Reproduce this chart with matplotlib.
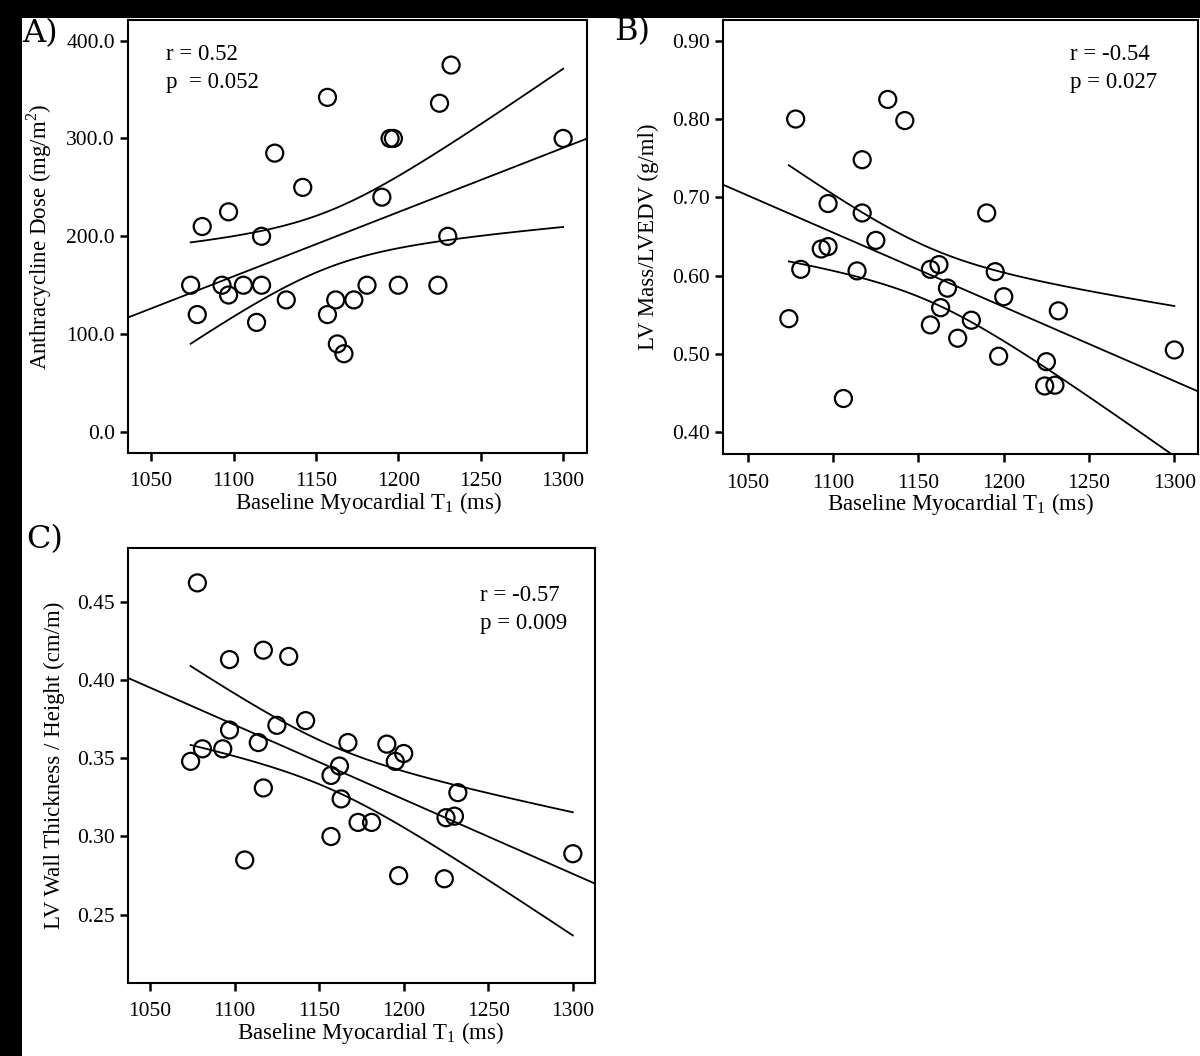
import numpy as np
import matplotlib
matplotlib.use("Agg")
import matplotlib.pyplot as plt
from matplotlib.patches import Rectangle

plt.rcParams['font.family'] = ['Liberation Serif', 'DejaVu Serif']

# Baseline myocardial T1 (ms), same patients in all three panels
t1 = [1074, 1078, 1081, 1093, 1097, 1097, 1106, 1114, 1117, 1117,
      1125, 1132, 1142, 1157, 1157, 1162, 1163, 1167, 1173, 1181,
      1190, 1195, 1197, 1200, 1224, 1225, 1230, 1232, 1300]

# A) anthracycline dose (mg/m2)
dose = [150, 120, 210, 150, 140, 225, 150, 112, 150, 200,
        285, 135, 250, 342, 120, 135, 90, 80, 135, 150,
        240, 300, 300, 150, 150, 336, 200, 375, 300]

# B) LV mass / LVEDV (g/ml)
mass_vol = [0.545, 0.800, 0.608, 0.634, 0.692, 0.637, 0.443, 0.606, 0.748, 0.680,
            0.645, 0.825, 0.798, 0.537, 0.608, 0.614, 0.559, 0.584, 0.520, 0.543,
            0.680, 0.605, 0.497, 0.573, 0.459, 0.490, 0.460, 0.555, 0.505]

# C) LV wall thickness / height (cm/m)
wall_h = [0.348, 0.462, 0.356, 0.356, 0.368, 0.413, 0.285, 0.360, 0.419, 0.331,
          0.371, 0.415, 0.374, 0.339, 0.300, 0.345, 0.324, 0.360, 0.309, 0.309,
          0.359, 0.348, 0.275, 0.353, 0.273, 0.312, 0.313, 0.328, 0.289]

x_ticks = [1050, 1100, 1150, 1200, 1250, 1300]


def fit_panel(ax, x, y, xlim, ylim, yticks, yfmt, ylabel, stats, stats_pos, xlab_x=0.5):
    x = np.array(x, dtype=float)
    y = np.array(y, dtype=float)
    ax.set_xlim(xlim)
    ax.set_ylim(ylim)

    # linear fit + 95% confidence band of the mean
    n = len(x)
    b, a = np.polyfit(x, y, 1)
    resid = y - (a + b * x)
    s = np.sqrt(np.sum(resid ** 2) / (n - 2))
    sxx = np.sum((x - x.mean()) ** 2)
    tval = 2.052
    xl = np.linspace(xlim[0], xlim[1], 50)
    ax.plot(xl, a + b * xl, color='black', lw=1.3)
    xc = np.linspace(x.min(), x.max(), 100)
    half = tval * s * np.sqrt(1.0 / n + (xc - x.mean()) ** 2 / sxx)
    ax.plot(xc, a + b * xc + half, color='black', lw=1.3)
    ax.plot(xc, a + b * xc - half, color='black', lw=1.3)

    ax.scatter(x, y, s=150, facecolors='none', edgecolors='black', linewidths=1.6, zorder=3)

    ax.set_xticks(x_ticks)
    ax.set_yticks(yticks)
    ax.set_yticklabels([yfmt % v for v in yticks])
    ax.tick_params(direction='out', length=6, width=1.8, labelsize=15.5, top=False, right=False)
    ax.tick_params(axis='x', pad=8)
    for sp in ax.spines.values():
        sp.set_linewidth(1.5)
    ax.set_xlabel(r'Baseline Myocardial T$_\mathregular{1}$ (ms)', fontsize=16.5)
    ax.xaxis.set_label_coords(xlab_x, -0.085)
    ax.set_ylabel(ylabel, fontsize=16.5, labelpad=9)
    ax.text(stats_pos[0], stats_pos[1], stats, transform=ax.transAxes,
            fontsize=16.5, va='top', ha='left', linespacing=1.45)


fig = plt.figure(figsize=(12, 10.56), dpi=100, facecolor='black')
fig.patches.append(Rectangle((22 / 1200, 0), 1 - 22 / 1200, 1 - 18 / 1056,
                             transform=fig.transFigure, facecolor='white',
                             edgecolor='none', zorder=-10))

axA = fig.add_axes([0.1067, 0.571, 0.3825, 0.410])
fit_panel(axA, t1, dose, (1036, 1314.5), (-21.5, 421),
          [0, 100, 200, 300, 400], '%.1f', r'Anthracycline Dose (mg/m$^\mathregular{2}$)',
          'r = 0.52\np  = 0.052', (0.083, 0.945), xlab_x=0.523)

axB = fig.add_axes([0.6025, 0.570, 0.3960, 0.411])
fit_panel(axB, t1, mass_vol, (1035.4, 1314), (0.372, 0.9264),
          [0.40, 0.50, 0.60, 0.70, 0.80, 0.90], '%.2f', 'LV Mass/LVEDV (g/ml)',
          'r = -0.54\np = 0.027', (0.73, 0.945))

axC = fig.add_axes([0.1067, 0.0691, 0.389, 0.412])
fit_panel(axC, t1, wall_h, (1037, 1313), (0.2064, 0.4843),
          [0.25, 0.30, 0.35, 0.40, 0.45], '%.2f', 'LV Wall Thickness / Height (cm/m)',
          'r = -0.57\np = 0.009', (0.755, 0.915), xlab_x=0.52)

fig.text(22 / 1200, 1 - 34 / 1056, 'A)', fontsize=23, va='center', ha='left',
         family=['DejaVu Serif'])
fig.text(614 / 1200, 1 - 32 / 1056, 'B)', fontsize=23, va='center', ha='left',
         family=['DejaVu Serif'])
fig.text(26 / 1200, 1 - 540 / 1056, 'C)', fontsize=23, va='center', ha='left',
         family=['DejaVu Serif'])

fig.savefig('out.png', dpi=100, facecolor=fig.get_facecolor())
